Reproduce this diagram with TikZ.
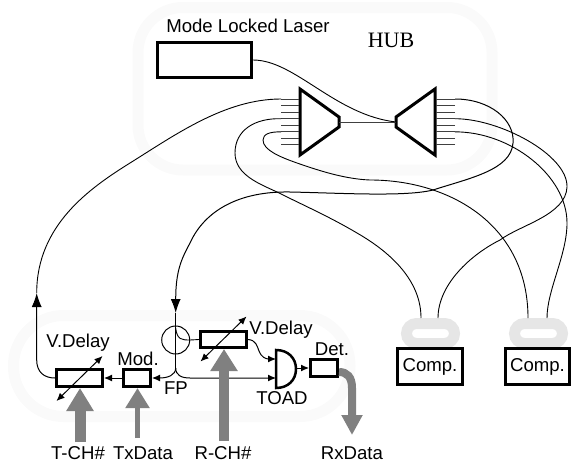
\documentclass[tikz,border=0pt]{standalone}
\usepackage{fontspec}
\setmainfont{Liberation Sans}
\newfontfamily\hubfont{Liberation Serif}
\usetikzlibrary{calc,arrows.meta}
\definecolor{bandgray}{RGB}{250,250,250}
\definecolor{compgray}{RGB}{230,230,230}
\definecolor{feedgray}{RGB}{128,128,128}
\tikzset{>=latex,
  lab/.style={font=\fontsize{18.6}{20}\selectfont, inner sep=0pt},
  box/.style={draw, fill=white, line width=3pt, inner sep=0pt},
  fiber/.style={line width=0.9pt},
  port/.style={line width=1pt, black!75},
  band/.style={bandgray, line width=11pt},
  compband/.style={compgray, line width=11pt, rounded corners=10pt},
  tip/.style={-{Latex[length=8pt,width=7pt]}, line width=1pt},
  bigtip/.style={-{Latex[length=14pt,width=10pt]}, line width=1pt},
  tune/.style={{Latex[length=8pt,width=7pt]}-{Latex[length=8pt,width=7pt]}, line width=1pt},
}
\begin{document}
\begin{tikzpicture}[x=1pt, y=-1pt]
\useasboundingbox (0,0) rectangle (572,463);

\draw[band, rounded corners=45pt] (138,7.5) rectangle (492,170);
\draw[band, rounded corners=50pt] (13.5,315.5) rectangle (350,416.5);
\draw[compband] (406.5,323.5) rectangle (454.5,343.5);
\draw[compband] (514.5,323.5) rectangle (562.5,343.5);

\node[box, minimum width=94pt, minimum height=35pt] (laser) at (204.5,60) {};
\node[lab] (laserlab) at (248,26) {Mode Locked Laser};
\node[lab, font=\hubfont\fontsize{22}{24}\selectfont] (hub) at (391,40) {HUB};

\draw[line width=3pt, line join=miter] (300,89) -- (339,117) -- (339,127) -- (300,155) -- cycle;
\draw[line width=3pt, line join=miter] (435,89) -- (396,117) -- (396,127) -- (435,155) -- cycle;
\coordinate (splitL) at (339,122);
\coordinate (splitR) at (396,122);
\draw[port] (splitL) -- (splitR);
\foreach \i in {1,...,8} {
  \coordinate (lp\i) at (281,{99+(\i-1)*6.57});
  \coordinate (rp\i) at (455,{99+(\i-1)*6.57});
  \draw[port] (lp\i) -- (299,{99+(\i-1)*6.57});
  \draw[port] (rp\i) -- (436,{99+(\i-1)*6.57});
}

\node[box, minimum width=46pt, minimum height=17pt] (delayT) at (79.5,378) {};
\node[box, minimum width=27pt, minimum height=17pt] (mod) at (137,378) {};
\node[box, minimum width=46pt, minimum height=16pt] (delayR) at (223.5,339.5) {};
\node[box, minimum width=27pt, minimum height=17pt] (det) at (324,368) {};
\node[box, minimum width=65pt, minimum height=36pt] (compA) at (430,366.5) {};
\node[box, minimum width=64pt, minimum height=36pt] (compB) at (537.5,366.5) {};
\node[draw, circle, line width=1pt, minimum size=28pt, inner sep=0pt] (fp) at (175.7,340) {};

\coordinate (toadA) at (276,359);
\coordinate (toadB) at (276,378);
\coordinate (toadOut) at (297,368);
\draw[line width=2.5pt, fill=white] (276,350) .. controls (288,350) and (296,358) .. (296,369) .. controls (296,380) and (288,388) .. (276,388) -- cycle;

\coordinate (upT) at (36.7,293);
\coordinate (downR) at (175.7,313);
\coordinate (fpB) at (175.7,368);
\coordinate (compAl) at (421,318);
\coordinate (compAr) at (438,318);
\coordinate (compBl) at (528,318);
\coordinate (compBr) at (547,318);

\draw[fiber] (laser.east) .. controls (295,60) and (335,115) .. (splitR);
\draw[fiber] (lp1) .. controls (225,99) and (175,135) .. (130,163) .. controls (90,188) and (36.7,225) .. (upT);
\draw[fiber, bigtip] (delayT.west) .. controls (44,378) and (36.7,372) .. (36.7,360) -- (upT);
\draw[fiber, bigtip] (rp1) .. controls (490,99) and (515,120) .. (513,143) .. controls (511,170) and (470,178) .. (433,190) .. controls (405,197) and (340,193) .. (290,192) .. controls (240,191) and (205,210) .. (190,243) .. controls (182,258) and (175.7,270) .. (downR);
\draw[fiber] (lp4) .. controls (255,118) and (235,130) .. (235,153) .. controls (235,175) and (260,184) .. (277,192) .. controls (305,206) and (330,217) .. (357,233) .. controls (390,252) and (421,280) .. (compAl);
\draw[fiber] (lp6) .. controls (270,131.7) and (263,134) .. (263,140) .. controls (263,150) and (280,157) .. (297,163) .. controls (320,171) and (345,179) .. (370,180) .. controls (450,180) and (528,225) .. (compBl);
\draw[fiber] (rp4) .. controls (500,118.7) and (568,155) .. (567,187) .. controls (566,215) and (520,225) .. (500,240) .. controls (470,255) and (438,285) .. (compAr);
\draw[fiber] (rp6) .. controls (510,131.7) and (567,175) .. (567,223) .. controls (567,255) and (547,290) .. (compBr);

\draw[fiber] (downR) -- (fpB);
\draw[fiber] (175.7,328) .. controls (177,340) and (182,340) .. (fp.east);
\draw[fiber] (fp.east) -- (delayR.west);
\draw[tip] (mod.west) -- (delayT.east);
\draw[tip] (fpB) .. controls (175.7,375) and (168,378) .. (mod.east);
\draw[tip] (fpB) .. controls (175.7,375) and (181,378) .. (190,378) -- (toadB);
\draw[tip] (delayR.east) .. controls (256,340) and (257,346) .. (259,351) .. controls (261,357) and (266,359) .. (toadA);
\draw[tip] (toadOut) -- (det.west);
\draw[tune] ($(delayT)+(-23,23)$) -- ($(delayT)+(23,-22)$);
\draw[tune] ($(delayR)+(-23,22)$) -- ($(delayR)+(23,-23)$);

\node[lab] (delayTlab) at (78,343) {V.Delay};
\node[lab] (modlab) at (138,359) {Mod.};
\node[lab] (delayRlab) at (281,330) {V.Delay};
\node[lab] (detlab) at (332,349) {Det.};
\node[lab] (fplab) at (176,388) {FP};
\node[lab] (toadlab) at (282,398) {TOAD};
\node[lab] (tch) at (78,453) {T-CH\#};
\node[lab] (txdata) at (143,453) {TxData};
\node[lab] (rch) at (223,453) {R-CH\#};
\node[lab] (rxdata) at (352,453) {RxData};
\node[lab] (compAlab) at (430,367) {Comp.};
\node[lab] (compBlab) at (537.5,367) {Comp.};

\coordinate (tchEnd) at (80,442);
\coordinate (txEnd) at (137.5,438);
\coordinate (rchEnd) at (224,441);
\coordinate (rxEnd) at (352,435);
\coordinate (detOut) at (339,372);
\draw[feedgray, line width=11pt, -{Triangle[length=23pt,width=26pt]}] (tchEnd) -- (tchEnd |- delayT.south);
\draw[feedgray, line width=5pt, -{Triangle[length=20pt,width=23pt]}] (txEnd) -- (txEnd |- mod.south);
\draw[feedgray, line width=10pt, -{Triangle[length=22pt,width=26pt]}] (rchEnd) -- (rchEnd |- delayR.south);
\draw[feedgray, line width=8pt, -{Triangle[length=20pt,width=20pt]}] (detOut) .. controls (347,372) and (352,377) .. (352,388) -- (rxEnd);
\end{tikzpicture}
\end{document}
